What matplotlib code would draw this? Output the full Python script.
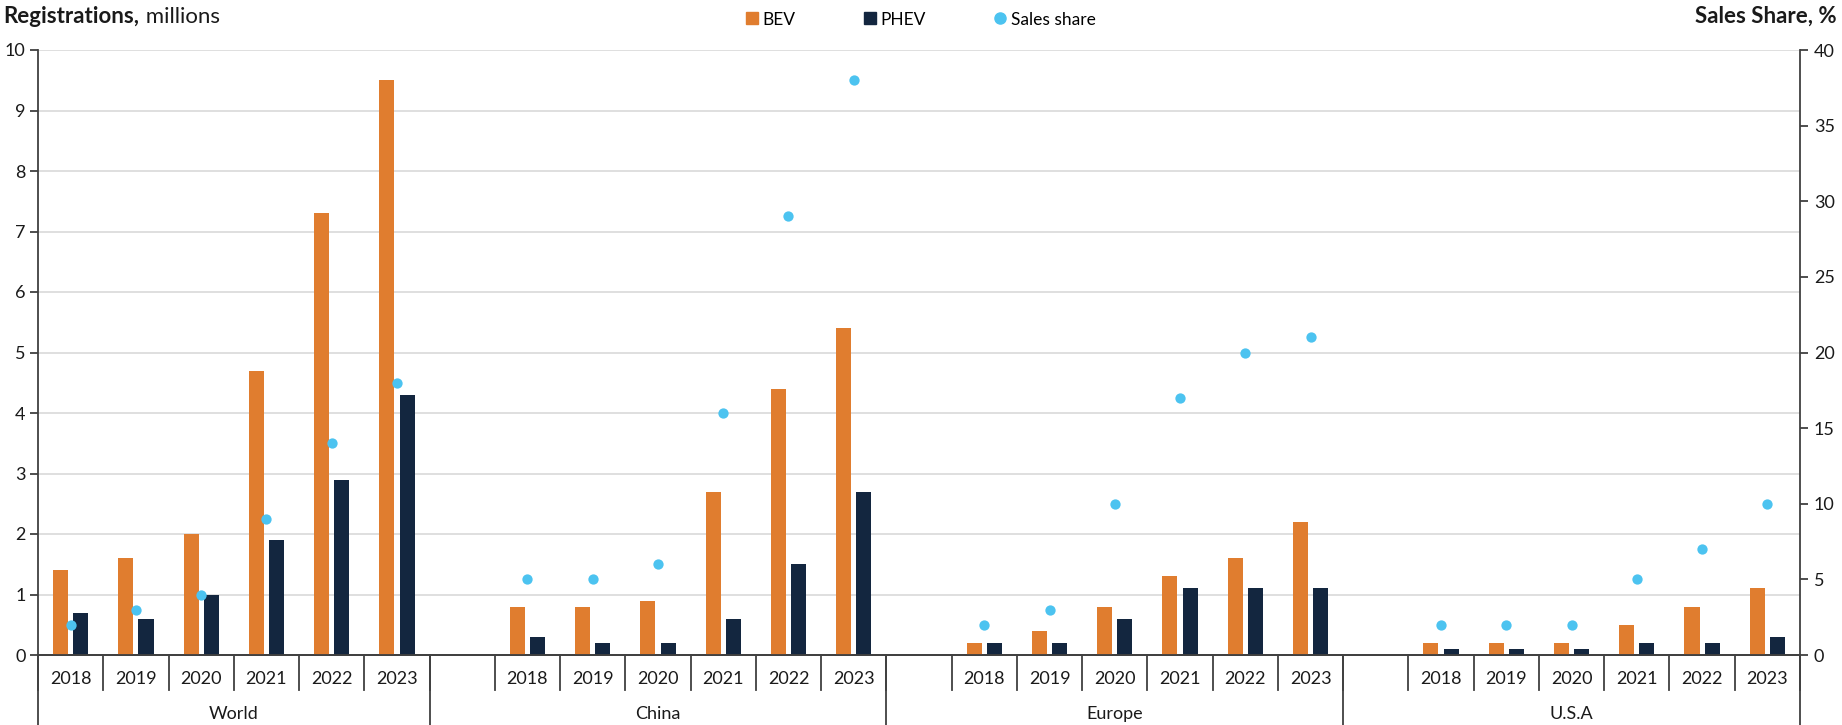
import matplotlib.pyplot as plt
import matplotlib.transforms as mtransforms
from matplotlib.lines import Line2D

plt.rcParams['font.family'] = ['Lato', 'DejaVu Sans']

regions = ['World', 'China', 'Europe', 'U.S.A']
years = ['2018', '2019', '2020', '2021', '2022', '2023']

# registrations, millions
bev_world = [1.4, 1.6, 2.0, 4.7, 7.3, 9.5]
phev_world = [0.7, 0.6, 1.0, 1.9, 2.9, 4.3]
bev_china = [0.8, 0.8, 0.9, 2.7, 4.4, 5.4]
phev_china = [0.3, 0.2, 0.2, 0.6, 1.5, 2.7]
bev_europe = [0.2, 0.4, 0.8, 1.3, 1.6, 2.2]
phev_europe = [0.2, 0.2, 0.6, 1.1, 1.1, 1.1]
bev_usa = [0.2, 0.2, 0.2, 0.5, 0.8, 1.1]
phev_usa = [0.1, 0.1, 0.1, 0.2, 0.2, 0.3]

# sales share, %
share_world = [2, 3, 4, 9, 14, 18]
share_china = [5, 5, 6, 16, 29, 38]
share_europe = [2, 3, 10, 17, 20, 21]
share_usa = [2, 2, 2, 5, 7, 10]

bev_all = [bev_world, bev_china, bev_europe, bev_usa]
phev_all = [phev_world, phev_china, phev_europe, phev_usa]
share_all = [share_world, share_china, share_europe, share_usa]

c_bev = '#E07D2F'
c_phev = '#13263F'
c_share = '#4CC3F0'
c_text = '#1a1a1a'
c_axis = '#404040'

fig = plt.figure(figsize=(18.42, 7.25), dpi=100)
ax = fig.add_axes([38 / 1842, 70 / 725, 1762 / 1842, 605 / 725])
ax2 = ax.twinx()

# slot layout: World has 6 slots, other regions get a blank slot first
starts = []
pos = 0
for g in range(len(regions)):
    if g > 0:
        pos += 1
    starts.append(pos)
    pos += len(years)
n_slots = pos
bounds = [0] + [s + len(years) for s in starts]

w = 0.23
off = 0.155
for g in range(len(regions)):
    xs = [starts[g] + i + 0.5 for i in range(len(years))]
    ax.bar([x - off for x in xs], bev_all[g], width=w, color=c_bev, zorder=3)
    ax.bar([x + off for x in xs], phev_all[g], width=w, color=c_phev, zorder=3)
    ax2.scatter(xs, share_all[g], s=55, color=c_share, zorder=4, linewidths=0)

ax.set_xlim(0, n_slots)
ax.set_ylim(0, 10)
ax2.set_ylim(0, 40)
ax.set_yticks(range(0, 11))
ax2.set_yticks(range(0, 41, 5))

ax.grid(axis='y', color='#dcdcdc', linewidth=1.3, zorder=0)
ax.set_axisbelow(True)

for a in (ax, ax2):
    a.spines['top'].set_visible(False)
    a.spines['bottom'].set_color(c_axis)
    a.spines['bottom'].set_linewidth(1.3)
    a.set_xticks([])
ax2.spines['left'].set_visible(False)
ax.spines['right'].set_visible(False)
ax.spines['left'].set_color(c_axis)
ax.spines['left'].set_linewidth(1.3)
ax2.spines['right'].set_color(c_axis)
ax2.spines['right'].set_linewidth(1.3)
ax.tick_params(axis='y', length=6, width=1.3, color=c_axis, pad=3,
               labelsize=13, labelcolor=c_text)
ax2.tick_params(axis='y', length=6, width=1.3, color=c_axis, pad=4,
                labelsize=13, labelcolor=c_text)

# category axis: year labels, year separators and region separators
trans = mtransforms.blended_transform_factory(ax.transData, ax.transAxes)
for b in range(n_slots + 1):
    ax.plot([b, b], [0, -0.058], transform=trans, color=c_axis, lw=1.3,
            clip_on=False)
for b in bounds:
    ax.plot([b, b], [0, -0.12], transform=trans, color=c_axis, lw=1.3,
            clip_on=False)
for g, name in enumerate(regions):
    for i, yr in enumerate(years):
        ax.text(starts[g] + i + 0.5, -0.04, yr, transform=trans, ha='center',
                va='center', fontsize=13, color=c_text)
    ax.text((bounds[g] + bounds[g + 1]) / 2 if g else 3, -0.097, name,
            transform=trans, ha='center', va='center', fontsize=13,
            color=c_text)

# titles
t1 = fig.text(0.002, 0.977, 'Registrations,', fontsize=16, fontweight='bold',
              color=c_text, ha='left', va='center')
ax.annotate(' millions', xy=(1, 0), xycoords=t1, va='bottom', ha='left',
            fontsize=16, color=c_text, annotation_clip=False)
fig.text(0.997, 0.977, 'Sales Share, %', fontsize=16, fontweight='bold',
         color=c_text, ha='right', va='center')

handles = [
    Line2D([], [], marker='s', ls='', color=c_bev, markersize=8),
    Line2D([], [], marker='s', ls='', color=c_phev, markersize=8),
    Line2D([], [], marker='o', ls='', color=c_share, markersize=8),
]
fig.legend(handles, ['BEV', 'PHEV', 'Sales share'], ncol=3, frameon=False,
           loc='center', bbox_to_anchor=(0.50, 0.973), fontsize=12.5,
           handlelength=0.6, handletextpad=0.3, columnspacing=4.0)

fig.savefig('out.png', dpi=100)
